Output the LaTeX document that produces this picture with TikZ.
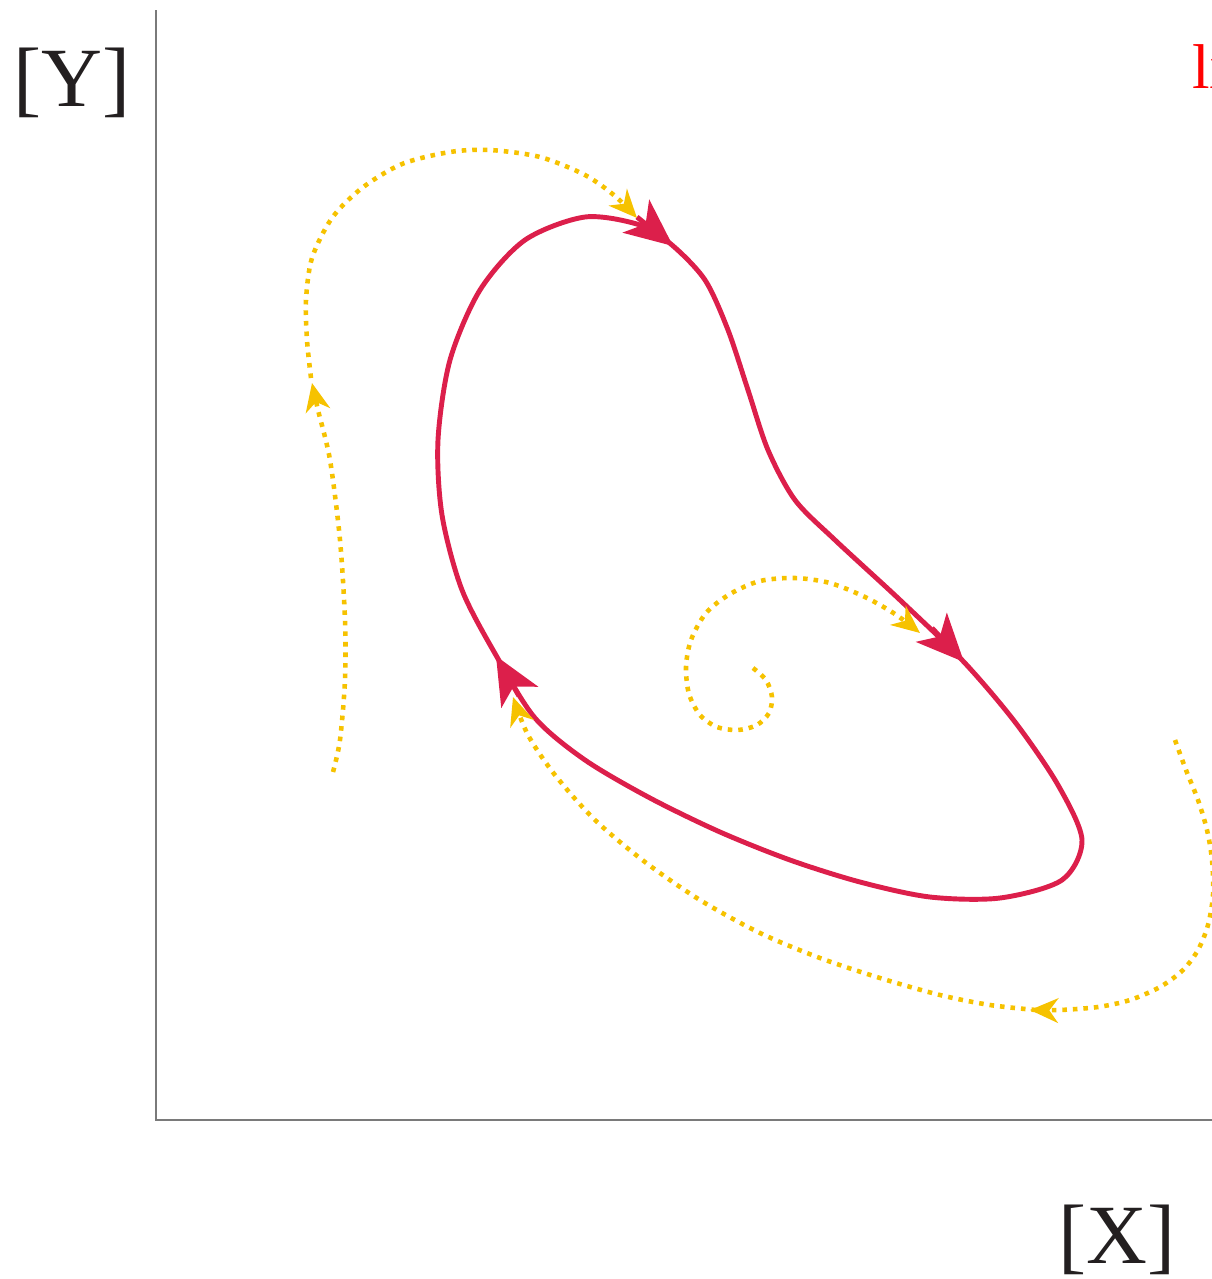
\documentclass[tikz,border=0pt]{standalone}
\usepackage{fontspec}
\setmainfont{Liberation Serif}
\usetikzlibrary{arrows.meta}
\definecolor{CycleRed}{HTML}{DC1F4B}
\definecolor{TrajYellow}{HTML}{F6C200}
\definecolor{AxisGray}{HTML}{7A7A7A}
\definecolor{LabelInk}{HTML}{231F20}

\tikzset{
  axisline/.style={draw=AxisGray, line width=1.2pt},
  cycleline/.style={draw=CycleRed, line width=2.8pt},
  cycletip/.style={cycleline, -{Stealth[length=27pt,width=24pt,inset=7pt]}},
  trajline/.style={draw=TrajYellow, line width=2.6pt, dash pattern=on 2.6pt off 3.4pt,
    -{Stealth[length=16pt,width=14pt,inset=5pt]}},
  axislabel/.style={font=\fontsize{48}{50}\selectfont, text=LabelInk, inner sep=0pt, anchor=base}
}

\begin{document}
\begin{tikzpicture}[x=0.02cm, y=-0.02cm]
      \useasboundingbox (0,0) rectangle (1212,1279);
      \clip (0,0) rectangle (1212,1279);

      % axes
      \coordinate (top) at (156,10);
      \coordinate (origin) at (156,1120);
      \coordinate (right) at (1214,1120);
      \draw[axisline] (top) -- (origin) -- (right);
      \node[axislabel] (ylabel) at (72,106) {[Y]};
      \node[axislabel] (xlabel) at (1117,1263) {[X]};
      \node[
        anchor=base west,
        inner sep=0pt,
        text=red,
        font=\fontsize{36}{38}\selectfont
      ] (cyclelabel) at (1192,88) {limit cycle};

      % limit cycle
      \draw[cycleline] plot[smooth cycle] coordinates {
        (672,245) (705,280) (728,330) (748,390) (768,450) (795,500) (835,540)
        (900,600) (963,661) (1015,722) (1058,785) (1082,840) (1062,880) (1000,898)
        (930,897) (860,882) (790,860) (720,832) (650,798) (585,760) (535,718)
        (497,657) (462,590) (442,515) (438,440) (450,360) (480,290) (525,240)
        (585,217) (640,225)};
      \coordinate (tipA0) at (637,217);
      \coordinate (tipA) at (673,246);
      \coordinate (tipB0) at (932,628);
      \coordinate (tipB) at (964,662);
      \coordinate (tipC0) at (519,696);
      \coordinate (tipC) at (496,656);
      \draw[cycletip] (tipA0) -- (tipA);
      \draw[cycletip] (tipB0) -- (tipB);
      \draw[cycletip] (tipC0) -- (tipC);

      % trajectories
      \draw[trajline] plot[smooth] coordinates {
        (333,772) (340,740) (345,680) (345,620) (340,540) (330,460) (318,410) (312,383)};
      \draw[trajline] plot[smooth] coordinates {
        (311,378) (307,340) (306,300) (312,258) (332,218) (362,188) (402,164)
        (450,152) (490,150) (540,157) (585,175) (615,196) (637,218)};
      \draw[trajline] plot[smooth] coordinates {
        (753,668) (766,680) (772,697) (769,713) (757,725) (738,730) (717,727)
        (700,715) (689,694) (686,667) (691,640) (706,613) (730,594) (760,581)
        (795,578) (830,583) (865,597) (895,614) (920,633)};
      \draw[trajline] plot[smooth] coordinates {
        (1175,740) (1186,770) (1198,800) (1207,830) (1212,860) (1213,895) (1208,925)
        (1198,950) (1183,970) (1160,987) (1130,1000) (1098,1007) (1060,1010) (1030,1010)};
      \draw[trajline] plot[smooth] coordinates {
        (1036,1010) (990,1005) (940,995) (880,978) (820,958) (760,933) (700,900)
        (645,862) (595,820) (555,775) (528,735) (513,697)};
    \end{tikzpicture}
\end{document}
